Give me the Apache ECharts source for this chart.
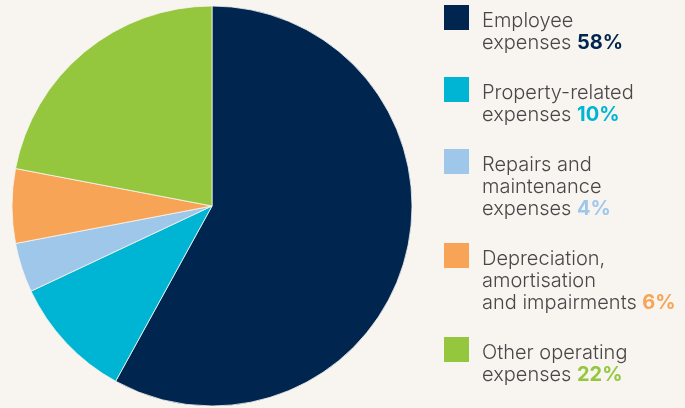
<!DOCTYPE html>
<html>
<head>
<meta charset="utf-8">
<script src="https://cdn.jsdelivr.net/npm/echarts@6/dist/echarts.min.js"></script>
<style>
  html, body { margin: 0; padding: 0; background: #f8f5f1; }
  #chart { width: 685px; height: 408px; }
</style>
</head>
<body>
<div id="chart"></div>
<script>
  // data
  const categories = ['Employee expenses', 'Property-related expenses', 'Repairs and maintenance expenses', 'Depreciation, amortisation and impairments', 'Other operating expenses']
  const labelLines = [
    ['Employee', 'expenses'],
    ['Property-related', 'expenses'],
    ['Repairs and', 'maintenance', 'expenses'],
    ['Depreciation,', 'amortisation', 'and impairments'],
    ['Other operating', 'expenses']
  ]
  const values = [58, 10, 4, 6, 22]
  const colors = ['#00264f', '#00b5d3', '#9fc7ea', '#f8a456', '#94c73e']

  let myChart = echarts.init(document.getElementById('chart'))

  // legend built by hand so the square sits at the first line
  let legendItems = []
  let itemTop = 5
  for (let i in categories) {
    let lines = labelLines[i].map((l) => '{n|' + l + '}')
    lines[lines.length - 1] += '{n| }{p' + i + '|' + values[i] + '%}'
    let rich = { n: { fontFamily: 'Inter', fontSize: 20, fontWeight: 300, fill: '#4a4747', lineHeight: 22 } }
    rich['p' + i] = { fontFamily: 'Inter', fontSize: 20, fontWeight: 'bold', fill: colors[i], lineHeight: 22 }
    legendItems.push({
      type: 'rect',
      left: 444, top: itemTop,
      shape: { width: 25, height: 25 },
      style: { fill: colors[i] }
    })
    legendItems.push({
      type: 'text',
      left: 482, top: itemTop + 6,
      style: { text: lines.join('\n'), rich: rich }
    })
    itemTop += labelLines[i].length * 22 + 28
  }

  let option = {
    backgroundColor: '#f8f5f1',
    color: colors,
    animation: false,
    graphic: legendItems,
    series: [
      {
        type: 'pie',
        center: [212, 206],
        radius: [0, 200],
        startAngle: 90,
        clockwise: true,
        label: { show: false },
        labelLine: { show: false },
        emphasis: { disabled: true },
        itemStyle: { borderColor: '#f8f5f1', borderWidth: 0.8 },
        data: categories.map((c, i) => ({ name: c, value: values[i] }))
      }
    ]
  }

  myChart.setOption(option)
</script>
</body>
</html>
